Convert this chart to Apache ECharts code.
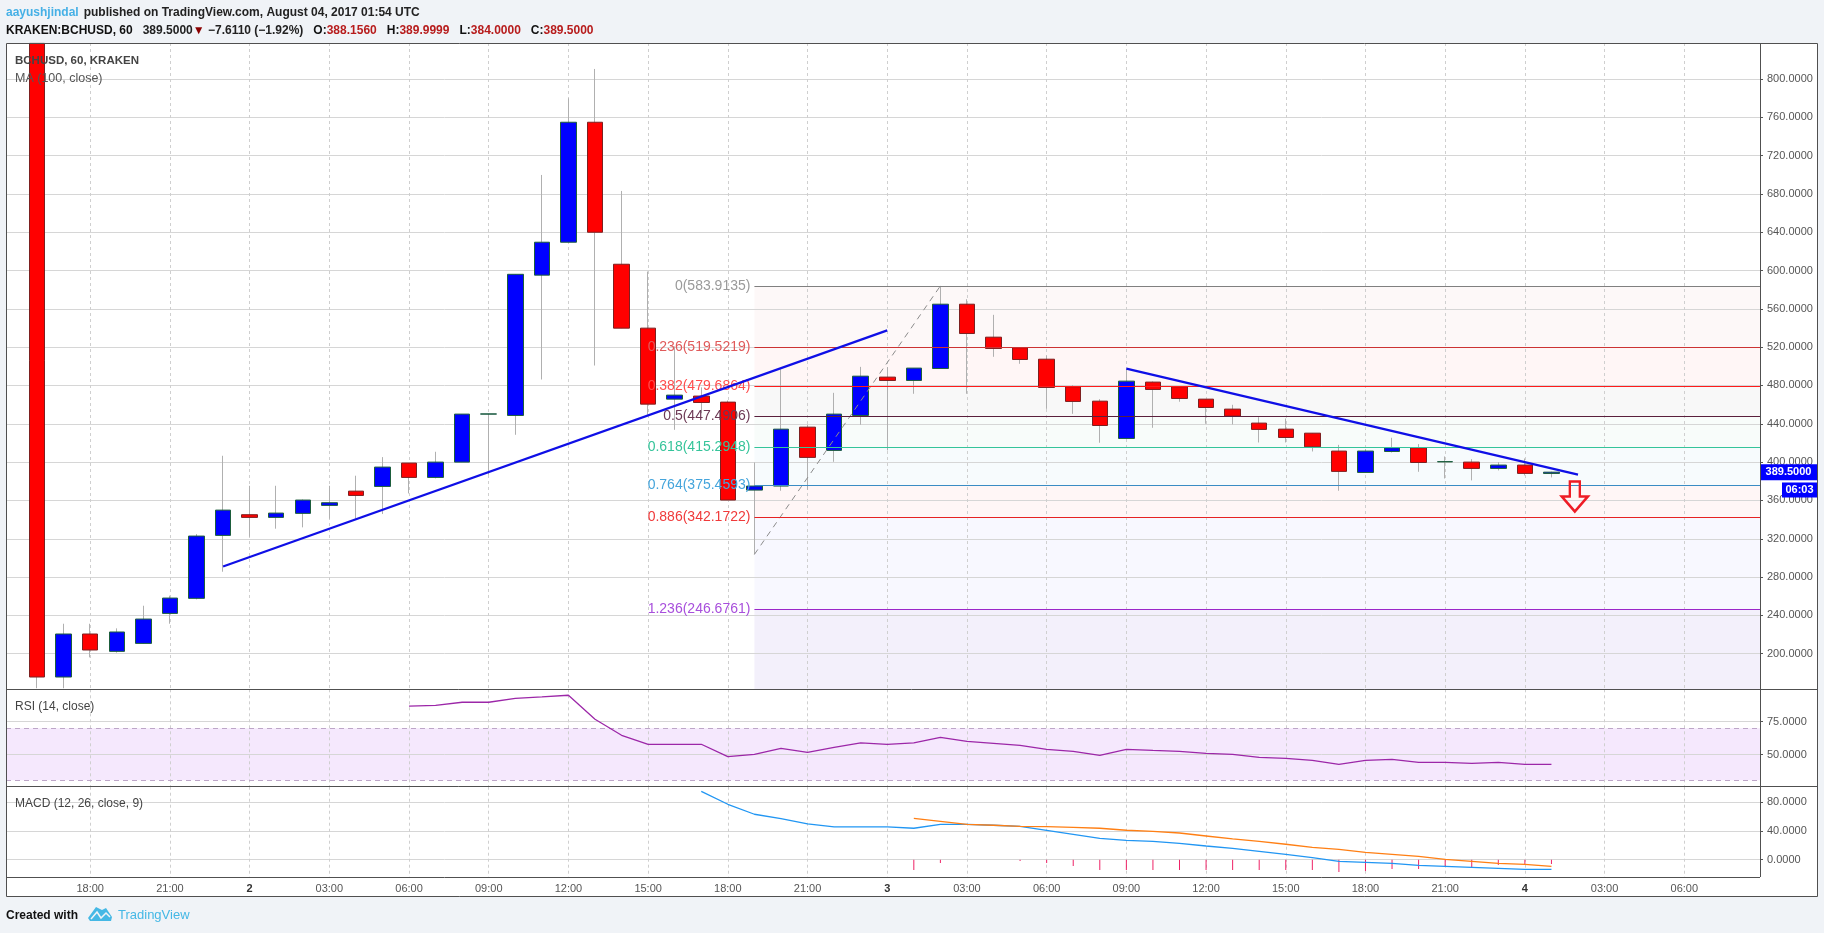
<!DOCTYPE html>
<html><head><meta charset="utf-8">
<style>html,body{margin:0;padding:0;background:#f0f3f7;overflow:hidden}#c{width:1824px;height:933px}</style>
<script src="https://cdn.jsdelivr.net/npm/echarts@6/dist/echarts.min.js"></script>
</head><body><div id="c"></div>
<script>
// Hours counted from 1 Aug 2017 00:00 UTC; one candle per hour
const firstHour = 16;
const opens = [837,175.7,220.6,202.5,210.8,242.1,257.8,323.5,345.1,342.3,346.5,354.8,369.7,374.6,399,384,400,450.1,448.7,595.1,629.5,754.7,606.5,539.8,465.7,468.9,462.6,370.8,375,436.5,412.2,448.7,488.7,485.2,497.7,564.8,530.4,519.3,507.4,478.6,463.6,424.7,483.5,478.6,465.7,455.3,440.7,434.4,430.2,411.5,389.2,411.1,414.9,400.3,400,393.4,396.9,388.156];
const closes = [175.7,220.6,203.9,222.7,236.2,258.1,322.8,349.9,342.3,346.8,360.4,357.6,365.2,394.8,384,400,450.1,450.3,596,629.5,754.7,639.9,539.8,460.5,469.9,462.2,360.4,375,434.4,404.9,450.1,489.7,485.2,498.1,564.8,534.2,518.6,507.1,477.9,463.3,438.2,484.5,475.8,466.4,457,448,434.1,425.7,416,390.3,411.5,414.9,399.6,400.5,393.4,396.9,388.2,389.5];
const highs = [837,231.3,231.3,226.5,250.1,260.6,324.9,406.6,375.3,375.3,361,375.3,385.8,405.2,399,410.8,450.1,450.5,596,699.7,779.7,810.3,683,598.9,520.7,478,464.3,399.6,497,439,472.3,499.4,499.1,498.1,583.9,570,553.7,519.5,511.3,480.3,465.7,497.4,484.2,478.6,465.7,459.8,446.9,445.5,430.2,418,413.6,425.4,418.8,405.9,403.1,400,403.8,390];
const lows = [164,164,196.2,201.1,210.8,231.3,256.7,285.6,322.1,330.5,331.9,340.9,340.9,345.8,367.3,383,400,386.8,428.5,486.2,629.5,500.8,539.8,449.4,433.7,451,360.4,303.7,370.1,371.1,400.3,439,412.2,471.3,497.7,471.3,509.9,502.6,455.6,450.4,420.2,424.7,435.8,463,440,439.3,420.5,420.5,411.1,370.1,389.2,410,389.9,382.9,380.9,391.3,386.1,384];

const rsiFirstHour = 30;
const rsiValues = [86.7,87.4,89.7,89.7,92.7,93.7,95,76.8,64.7,57.9,57.9,57.9,48.5,50.3,54.8,51.8,55.6,58.9,57.9,58.9,63.2,60.1,58.6,57.1,54.1,52.6,49.5,54.1,53.3,52.6,51,50.3,48,47.3,45.7,42.7,45.7,46.5,44.2,44.2,43.5,44.2,42.7,42.7];

const macdFirstHour = 41;
const macdValues = [95.3,77.2,63.3,57.2,49.8,45.6,45.6,45.6,43.8,49.3,49.3,48,46.5,41,35.4,29.8,27,25.6,22.8,19.1,15.9,11.7,7.5,2.9,-2.2,-3.6,-5,-7.8,-9.2,-10.6,-12,-13.4,-13.4];
const signalFirstHour = 49;
const signalValues = [57.7,53.5,49.3,48,46.5,46,45.1,43.8,41,39.6,37.2,33,28.9,25.6,21.5,17.3,14.5,10.3,7.5,4.7,0.5,-2.2,-5,-6.4,-9.2];
const histHours = [49,50,53,54,55,56,57,58,59,60,61,62,63,64,65,66,67,68,69,70,71,72,73];
const histValues = [-14.3,-4.6,-1.8,-4.6,-8.8,-14.3,-14.3,-14.3,-14.3,-14.3,-14.3,-14.3,-14.3,-14.3,-17.1,-15.7,-12.9,-12.9,-8.8,-10.6,-7.4,-6,-6];

const fibRatios = ['0','0.236','0.382','0.5','0.618','0.764','0.886','1.236'];
const fibPrices = [583.9135,519.5219,479.6864,447.4906,415.2948,375.4593,342.1722,246.6761];
const fibLineColors = ['#808080','#cc3333','#ff1a1a','#5a1f3c','#35c49a','#3a8cc4','#e62222','#9b27c9'];
const fibLabelColors = ['#9a9a9a','#e05a5a','#ff4d4d','#6d3a55','#35c49a','#45a5dc','#f03a3a','#a84fdc'];
const fibBandColors = ['#fdf8f8','#fff6f6','#f8f8f8','#f8fcfa','#f7fbfd','#fff6f6','#f8f8ff','#f3f0fb'];

const riseLine = [[23,291],[48,537.5]];
const fallLine = [[57,497.5],[74,387]];
const fibTrend = [[43,303.7],[50,583.9]];

const timeTickHours = [18,21,24,27,30,33,36,39,42,45,48,51,54,57,60,63,66,69,72,75,78];
const timeTickLabels = ['18:00','21:00','2','03:00','06:00','09:00','12:00','15:00','18:00','21:00','3','03:00','06:00','09:00','12:00','15:00','18:00','21:00','4','03:00','06:00'];
const priceTicks = [200,240,280,320,360,400,440,480,520,560,600,640,680,720,760,800];
const rsiTicks = [50,75];
const macdTicks = [0,40,80];
const lastPrice = 389.5, countdown = '06:03';

const xMin = 14.83, xMax = 80.85, priceMin = 163.2, priceMax = 837.4;
const hoursFrom = (start, arr) => arr.map((v,i)=>[start+i,v]);
const candles = opens.map((o,i)=>[firstHour+i,o,closes[i],lows[i],highs[i]]);
const bodies = opens.map((o,i)=>[firstHour+i,o,closes[i],Math.min(o,closes[i]),Math.max(o,closes[i])]);

const FONT = '"Liberation Sans", Arial, sans-serif';
const gridL = 6, gridW = 1754;
const grids = [
  {left:gridL,width:gridW,top:43,height:646},
  {left:gridL,width:gridW,top:689.3,height:97.4},
  {left:gridL,width:gridW,top:786.7,height:90.3}
];
const xAxisOf = (g,show)=>({
  type:'value',gridIndex:g,min:xMin,max:xMax,
  axisLine:{show:false},
  axisTick:{show:false,customValues:timeTickHours},
  axisLabel:{show:show,customValues:timeTickHours,margin:6,color:'#555',fontFamily:FONT,fontSize:11,
    formatter:v=>{const l=timeTickLabels[timeTickHours.indexOf(v)];return l&&l.length===1?'{d|'+l+'}':l;},
    rich:{d:{fontWeight:'bold',color:'#333',fontSize:11,fontFamily:FONT}}},
  splitLine:{show:true,lineStyle:{color:'#cfcfcf',type:[3,3],width:1}}
});
const yAxisOf = (g,min,max,ticks)=>({
  type:'value',gridIndex:g,min,max,position:'right',scale:true,
  axisLine:{show:false},
  axisTick:{show:true,length:3,lineStyle:{color:'#555'},customValues:ticks},
  axisLabel:{customValues:ticks,margin:7,color:'#555',fontFamily:FONT,fontSize:11,formatter:v=>v.toFixed(4)},
  splitLine:{show:true,lineStyle:{color:'#d6d6d6',width:1}}
});

const plainLine = (name,x,y,data,color,width,z,extra)=>Object.assign({
  name,type:'line',xAxisIndex:x,yAxisIndex:y,data,symbol:'none',silent:true,z,
  lineStyle:{color,width},animation:false
},extra||{});

const arrowPath = 'path://M8 0 L18 0 L18 15 L26 15 L13 30 L0 15 L8 15 Z';

const option = {
  animation:false,
  backgroundColor:'#f0f3f7',
  textStyle:{fontFamily:FONT},
  title:[
    {left:6,top:4,padding:0,text:'{a|aayushjindal} {b|published on TradingView.com, August 04, 2017 01:54 UTC}',
      textStyle:{rich:{a:{color:'#45b0e6',fontSize:12,fontFamily:FONT},b:{color:'#222',fontSize:12,fontFamily:FONT}}}},
    {left:6,top:22,padding:0,text:'{k|KRAKEN:BCHUSD, 60}  {b|389.5000}{r|▼}{b| −7.6110 (−1.92%)}  {k|O:}{v|388.1560}  {k|H:}{v|389.9999}  {k|L:}{v|384.0000}  {k|C:}{v|389.5000}',
      textStyle:{rich:{k:{color:'#111',fontWeight:'bold',fontSize:12,fontFamily:FONT},b:{color:'#222',fontSize:12,fontFamily:FONT},r:{color:'#8b0000',fontSize:12},v:{color:'#b71c1c',fontSize:12,fontFamily:FONT}}}},
    {left:15,top:54.5,padding:0,text:'BCHUSD, 60, KRAKEN',textStyle:{color:'#444',fontSize:11.5,fontWeight:'bold',fontFamily:FONT}},
    {left:15,top:72,padding:0,text:'MA (100, close)',textStyle:{color:'#555',fontSize:12.5,fontWeight:'normal',fontFamily:FONT}},
    {left:15,top:700.7,padding:0,text:'RSI (14, close)',textStyle:{color:'#444',fontSize:12,fontWeight:'normal',fontFamily:FONT}},
    {left:15,top:798,padding:0,text:'MACD (12, 26, close, 9)',textStyle:{color:'#444',fontSize:12,fontWeight:'normal',fontFamily:FONT}},
    {left:6,top:909.7,padding:0,text:'Created with',textStyle:{color:'#111',fontSize:12,fontWeight:'bold',fontFamily:FONT}},
    {left:118,top:909,padding:0,text:'TradingView',textStyle:{color:'#45b8e5',fontSize:13,fontWeight:'normal',fontFamily:FONT}}
  ],
  grid:grids,
  xAxis:[xAxisOf(0,false),xAxisOf(1,false),xAxisOf(2,true)],
  yAxis:[yAxisOf(0,priceMin,priceMax,priceTicks),yAxisOf(1,25.8,99.5,rsiTicks),yAxisOf(2,-24.1,101.7,macdTicks)],
  graphic:[
    {type:'rect',z:-10,silent:true,shape:{x:6,y:43,width:1811,height:853},style:{fill:'#ffffff'}},
    {type:'rect',z:100,silent:true,shape:{x:6.5,y:43.5,width:1811,height:853},style:{fill:'none',stroke:'#505050',lineWidth:1}},
    {type:'line',z:100,silent:true,shape:{x1:6,y1:689.5,x2:1817,y2:689.5},style:{stroke:'#505050',lineWidth:1}},
    {type:'line',z:100,silent:true,shape:{x1:6,y1:786.5,x2:1817,y2:786.5},style:{stroke:'#505050',lineWidth:1}},
    {type:'line',z:100,silent:true,shape:{x1:6,y1:877.5,x2:1760,y2:877.5},style:{stroke:'#505050',lineWidth:1}},
    {type:'line',z:100,silent:true,shape:{x1:1760.5,y1:43,x2:1760.5,y2:877},style:{stroke:'#505050',lineWidth:1}},
    {type:'polygon',z:100,silent:true,shape:{points:[[88,918],[96,907],[102,910],[106,908],[112,917],[111,921],[90,921]]},style:{fill:'#45b8e5'}},
    {type:'polyline',z:101,silent:true,shape:{points:[[91,919],[97,912],[101,918],[106,913],[110,917]]},style:{stroke:'#f0f3f7',fill:'none',lineWidth:1.5}}
  ],
  series:[
    plainLine('fibBands',0,0,[[43,fibPrices[0]]],'transparent',0,-1,{
      markArea:{silent:true,z:-1,itemStyle:{opacity:1},data:fibPrices.map((p,i)=>[
        {xAxis:43,yAxis:p,itemStyle:{color:fibBandColors[i]}},
        {xAxis:xMax,yAxis:i+1<fibPrices.length?fibPrices[i+1]:priceMin}
      ])}
    }),
    {name:'wicks',type:'candlestick',xAxisIndex:0,yAxisIndex:0,data:candles,barWidth:1,z:2,silent:true,
      itemStyle:{color:'#b0b0b0',color0:'#b0b0b0',borderColor:'#b0b0b0',borderColor0:'#b0b0b0',borderWidth:1}},
    {name:'bodies',type:'candlestick',xAxisIndex:0,yAxisIndex:0,data:bodies,barWidth:16,z:3,silent:true,
      itemStyle:{color:'#0000ff',color0:'#ff0000',borderColor:'#1d5e3c',borderColor0:'#7d2020',borderWidth:1}},
    plainLine('fibTrend',0,0,fibTrend,'#8c8c8c',1,4,{lineStyle:{color:'#8c8c8c',width:1,type:[6,5]},
      markLine:{silent:true,symbol:'none',z:5,precision:4,data:fibPrices.map((p,i)=>[
        {coord:[43,p],lineStyle:{color:fibLineColors[i],width:1.2,type:'solid'},
         label:{show:true,position:'start',distance:4,formatter:fibRatios[i]+'('+p.toFixed(4)+')',color:fibLabelColors[i],fontSize:14,fontFamily:FONT}},
        {coord:[xMax,p]}
      ])}
    }),
    plainLine('rise',0,0,riseLine,'#0f0fe6',2.2,6),
    plainLine('fall',0,0,fallLine,'#0f0fe6',2.2,6),
    plainLine('tags',0,0,[[firstHour,lastPrice]],'transparent',0,8,{
      markPoint:{silent:true,z:20,data:[
        {coord:[73.88,364.1],symbol:arrowPath,symbolSize:[26,30],itemStyle:{color:'rgba(255,255,255,0)',borderColor:'#ee1c25',borderWidth:2.5},label:{show:false}},
        {coord:[xMax,lastPrice],symbol:'rect',symbolSize:[57,16],symbolOffset:[28.5,0],itemStyle:{color:'#0000ff'},
         label:{show:true,position:'inside',formatter:lastPrice.toFixed(4),color:'#fff',fontSize:11,fontWeight:'bold',fontFamily:FONT}},
        {coord:[xMax,lastPrice],symbol:'rect',symbolSize:[35,15],symbolOffset:[39.5,17.8],itemStyle:{color:'#0000ff'},
         label:{show:true,position:'inside',formatter:countdown,color:'#fff',fontSize:11,fontWeight:'bold',fontFamily:FONT}}
      ]}
    }),
    plainLine('rsi',1,1,hoursFrom(rsiFirstHour,rsiValues),'#9c27a8',1.3,5,{
      markArea:{silent:true,z:-1,itemStyle:{color:'#f5e8fd',opacity:1},data:[[{yAxis:70},{yAxis:30.6}]]},
      markLine:{silent:true,symbol:'none',z:4,label:{show:false},lineStyle:{color:'#bda6c8',type:[5,4],width:1},data:[{yAxis:70},{yAxis:30.6}]}
    }),
    {name:'hist',type:'bar',xAxisIndex:2,yAxisIndex:2,barWidth:1,silent:true,z:3,
      itemStyle:{color:'#ee2266'},data:histValues.map((v,i)=>[histHours[i],v])},
    plainLine('macd',2,2,hoursFrom(macdFirstHour,macdValues),'#2196f3',1.3,5),
    plainLine('signal',2,2,hoursFrom(signalFirstHour,signalValues),'#ff7f14',1.3,6)
  ]
};
const chart = echarts.init(document.getElementById('c'),null,{renderer:'canvas',width:1824,height:933});
chart.setOption(option);
</script></body></html>
